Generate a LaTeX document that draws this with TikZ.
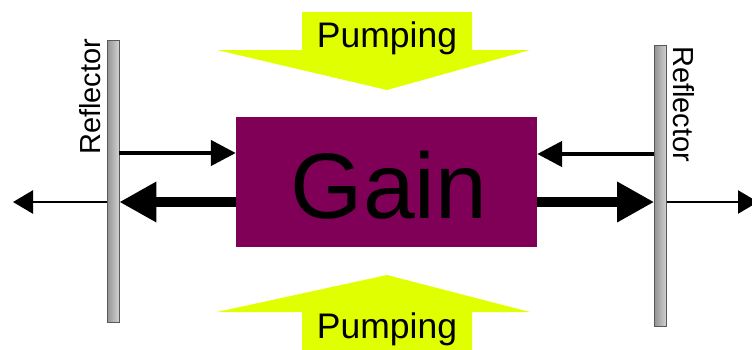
\documentclass[tikz,border=0pt]{standalone}
\usepackage{fontspec}
\setmainfont{Liberation Sans}
\usetikzlibrary{arrows.meta}
\definecolor{pumpyellow}{RGB}{224,255,0}
\definecolor{gainpurple}{RGB}{128,0,88}
\tikzset{
  reflector/.style={draw=gray!70!black, line width=0.6pt, minimum width=12pt, inner sep=0pt,
    left color=gray!85, right color=gray!35, shading angle=90},
  reftext/.style={font=\fontsize{29}{29}\selectfont, inner sep=0pt},
  pumptext/.style={font=\fontsize{35.5}{35.5}\selectfont, inner sep=0pt},
  pumparrow/.style={fill=pumpyellow, draw=none},
  beamthin/.style={line width=4.5pt, -{Triangle[length=25pt,width=25pt]}},
  beamthick/.style={line width=10pt, -{Triangle[length=37pt,width=38pt]}},
  beamout/.style={line width=2.5pt, -{Triangle[length=20pt,width=23pt]}},
}
\begin{document}
\begin{tikzpicture}[x=1pt,y=-1pt]
\useasboundingbox (0,0) rectangle (752,349);
\clip (0,0) rectangle (752,349);
% pumping arrows
\fill[pumparrow] (302,12) -- (472,12) -- (472,50) -- (530,50) -- (387,90) -- (217,50) -- (302,50) -- cycle;
\node[pumptext, anchor=base] (ptop) at (387,47) {Pumping};
\fill[pumparrow] (387,275) -- (530,312) -- (472,312) -- (472,352) -- (302,352) -- (302,312) -- (217,312) -- cycle;
\node[pumptext, anchor=base] (pbot) at (387,338) {Pumping};
% gain
\node[fill=gainpurple, minimum width=301pt, minimum height=130pt, inner sep=0pt] (gain) at (386.5,182) {};
\node[font=\fontsize{93}{93}\selectfont, inner sep=0pt, anchor=base] (gaintext) at (389,218) {Gain};
% reflectors
\node[reflector, minimum height=282pt] (refL) at (113,181) {};
\node[reflector, minimum height=281pt] (refR) at (660.5,185.5) {};
\node[reftext, rotate=90, anchor=base west] (refLt) at (100,155) {Reflector};
\node[reftext, rotate=-90, anchor=base west] (refRt) at (673,46) {Reflector};
% beams
\coordinate (outL) at (13,202);
\coordinate (outR) at (758,202);
\draw[beamthin] (refL.east |- 0,153) -- (gain.west |- 0,153);
\draw[beamthin] (refR.west |- 0,154) -- (gain.east |- 0,154);
\draw[beamthick] (gain.west |- 0,202) -- (refL.east |- 0,202);
\draw[beamthick] (gain.east |- 0,202) -- (refR.west |- 0,202);
\draw[beamout] (refL.west |- 0,202) -- (outL);
\draw[beamout] (refR.east |- 0,202) -- (outR);
\end{tikzpicture}
\end{document}
